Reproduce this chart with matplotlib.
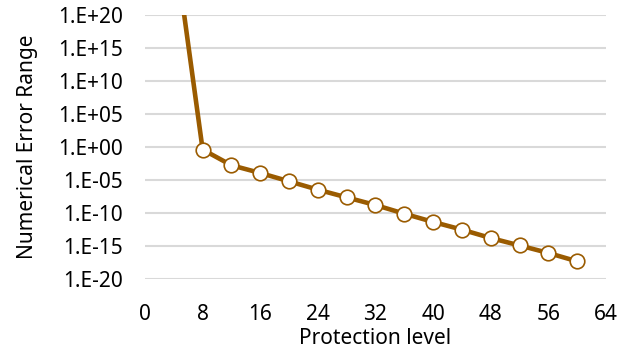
import math
import matplotlib.pyplot as plt
from matplotlib.ticker import FixedLocator, FuncFormatter

plt.rcParams['font.family'] = ['Noto Sans', 'DejaVu Sans']

# protection level vs numerical error range (first point is off the top of the chart)
levels = [4, 8, 12, 16, 20, 24, 28, 32, 36, 40, 44, 48, 52, 56, 60]
errors = [3e31, 4.1e-1, 1.7e-3, 1.15e-4, 6.3e-6, 3.4e-7, 2.3e-8, 1.6e-9,
          7.8e-11, 4.4e-12, 3.0e-13, 1.6e-14, 1.2e-15, 8.7e-17, 4.7e-18]

xticks = [0, 8, 16, 24, 32, 40, 48, 56, 64]
yticks = [10.0 ** e for e in range(-20, 21, 5)]

brown = '#9A5B00'

fig = plt.figure(figsize=(6.41, 3.5), dpi=100)
ax = fig.add_axes([0.2262, 0.2029, 0.7192, 0.7542])

ax.plot(levels, errors, color=brown, lw=3.3, zorder=3)
ax.plot(levels[1:], errors[1:], ls='none', marker='o', ms=10.5,
        mfc='white', mec=brown, mew=1.2, zorder=4)

ax.set_yscale('log')
ax.set_ylim(1e-20, 1e20)
ax.set_xlim(0, 64)
ax.xaxis.set_major_locator(FixedLocator(xticks))
ax.yaxis.set_major_locator(FixedLocator(yticks))
ax.yaxis.set_minor_locator(FixedLocator([]))


def fmt(v, pos):
    e = int(round(math.log10(v)))
    return '1.E+%02d' % e if e >= 0 else '1.E-%02d' % -e


ax.yaxis.set_major_formatter(FuncFormatter(fmt))
ax.grid(axis='y', color='#D9D9D9', lw=1.5)
ax.set_axisbelow(True)
for s in ax.spines.values():
    s.set_visible(False)
ax.tick_params(length=0, labelsize=15, colors='black')
ax.tick_params(axis='y', pad=16)
ax.tick_params(axis='x', pad=18)

ax.set_xlabel('Protection level', fontsize=15, labelpad=2)
ax.set_ylabel('Numerical Error Range', fontsize=15, labelpad=14)

fig.savefig('out.png', dpi=100)
